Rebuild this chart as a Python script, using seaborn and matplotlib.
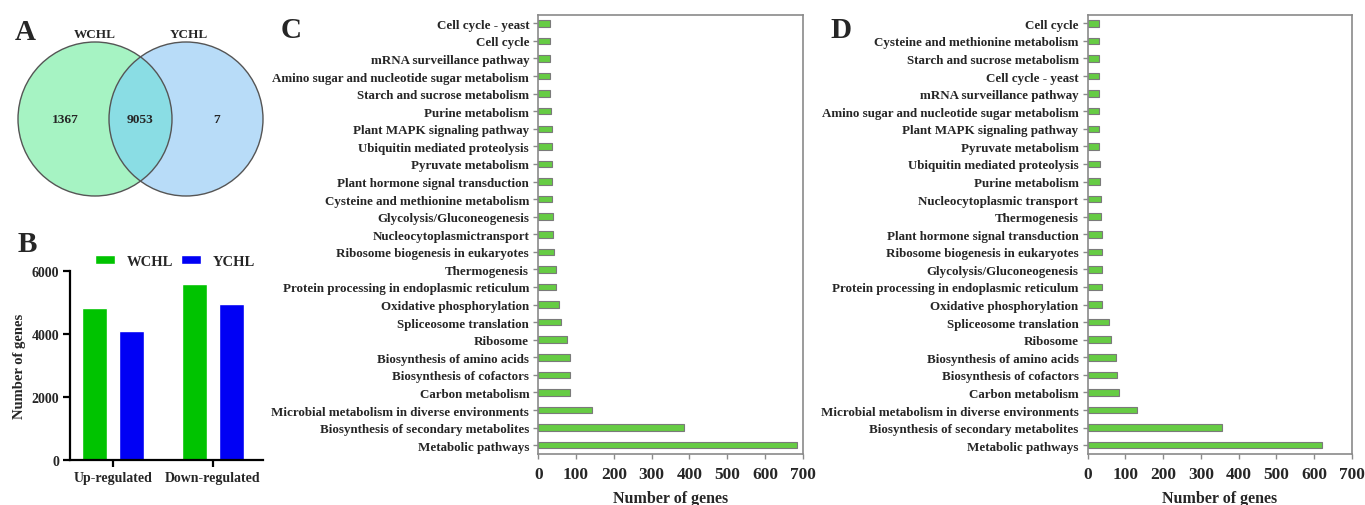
import numpy as np
import pandas as pd
import matplotlib
matplotlib.use("Agg")
import matplotlib.pyplot as plt
from matplotlib.patches import Circle
import seaborn as sns

# ---- data ----
venn_sets = ["WCHL", "YCHL"]
venn_counts = [1367, 9053, 7]          # WCHL only, shared, YCHL only

reg_categories = ["Up-regulated", "Down-regulated"]
wchl_counts = [4820, 5600]
ychl_counts = [4100, 4940]

c_pathways = [
    "Cell cycle - yeast", "Cell cycle", "mRNA surveillance pathway",
    "Amino sugar and nucleotide sugar metabolism", "Starch and sucrose metabolism",
    "Purine metabolism", "Plant MAPK signaling pathway", "Ubiquitin mediated proteolysis",
    "Pyruvate metabolism", "Plant hormone signal transduction",
    "Cysteine and methionine metabolism", "Glycolysis/Gluconeogenesis",
    "Nucleocytoplasmictransport", "Ribosome biogenesis in eukaryotes", "Thermogenesis",
    "Protein processing in endoplasmic reticulum", "Oxidative phosphorylation",
    "Spliceosome translation", "Ribosome", "Biosynthesis of amino acids",
    "Biosynthesis of cofactors", "Carbon metabolism",
    "Microbial metabolism in diverse environments",
    "Biosynthesis of secondary metabolites", "Metabolic pathways",
]
c_genes = [31, 31, 31, 31, 32, 34, 35, 35, 35, 37, 37, 38, 39, 41, 47,
           47, 54, 59, 75, 83, 84, 85, 141, 386, 686]

d_pathways = [
    "Cell cycle", "Cysteine and methionine metabolism", "Starch and sucrose metabolism",
    "Cell cycle - yeast", "mRNA surveillance pathway",
    "Amino sugar and nucleotide sugar metabolism", "Plant MAPK signaling pathway",
    "Pyruvate metabolism", "Ubiquitin mediated proteolysis", "Purine metabolism",
    "Nucleocytoplasmic transport", "Thermogenesis", "Plant hormone signal transduction",
    "Ribosome biogenesis in eukaryotes", "Glycolysis/Gluconeogenesis",
    "Protein processing in endoplasmic reticulum", "Oxidative phosphorylation",
    "Spliceosome translation", "Ribosome", "Biosynthesis of amino acids",
    "Biosynthesis of cofactors", "Carbon metabolism",
    "Microbial metabolism in diverse environments",
    "Biosynthesis of secondary metabolites", "Metabolic pathways",
]
d_genes = [30, 30, 30, 31, 31, 30, 31, 31, 33, 33, 35, 36, 37, 37, 37,
           39, 39, 56, 62, 75, 79, 82, 131, 355, 620]

# ---- style ----
sns.set_style("ticks")
plt.rcParams["font.family"] = ["Liberation Serif", "DejaVu Serif"]
plt.rcParams["font.weight"] = "bold"
plt.rcParams["axes.labelweight"] = "bold"

W, H = 1365, 506
fig = plt.figure(figsize=(W / 100, H / 100), dpi=100)


def px_axes(x0, y0, x1, y1):
    """Axes from pixel box (top-left origin)."""
    return fig.add_axes([x0 / W, 1 - y1 / H, (x1 - x0) / W, (y1 - y0) / H])


def panel_letter(x, y, s):
    fig.text(x / W, 1 - y / H, s, fontsize=21, fontweight="bold",
             ha="center", va="center")


# ---- A: Venn ----
axA = px_axes(0, 0, 280, 210)
axA.set_xlim(0, 280)
axA.set_ylim(210, 0)
axA.set_aspect("equal")
axA.axis("off")
r = 77
left_c = Circle((95, 120), r, facecolor="#a6f3c3", edgecolor="none", zorder=1)
right_c = Circle((186, 120), r, facecolor="#b8dcf8", edgecolor="none", zorder=1)
axA.add_patch(left_c)
axA.add_patch(right_c)
overlap = Circle((186, 120), r, facecolor="#8adde4", edgecolor="none", zorder=2)
axA.add_patch(overlap)
overlap.set_clip_path(left_c)
for cx in (95, 186):
    axA.add_patch(Circle((cx, 120), r, facecolor="none", edgecolor="#555555",
                         lw=1.0, zorder=3))
axA.text(95, 35, venn_sets[0], fontsize=9.5, ha="center", va="center")
axA.text(189, 35, venn_sets[1], fontsize=9.5, ha="center", va="center")
for xt, n in zip((65, 140, 217), venn_counts):
    axA.text(xt, 120, str(n), fontsize=9.6, ha="center", va="center", zorder=4)
panel_letter(25, 32, "A")

# ---- B: DEG bars ----
axB = px_axes(70, 272, 263, 461)
dfB = pd.DataFrame({
    "Regulation": reg_categories * 2,
    "Group": ["WCHL"] * 2 + ["YCHL"] * 2,
    "Count": wchl_counts + ychl_counts,
})
sns.barplot(data=dfB, x="Regulation", y="Count", hue="Group",
            palette={"WCHL": "#00c300", "YCHL": "#0000f5"}, saturation=1,
            width=0.74, gap=0.31, ax=axB, legend=True)
axB.set_xlim(-0.43, 1.5)
axB.set_ylim(0, 6000)
axB.set_yticks([0, 2000, 4000, 6000])
axB.set_xlabel("")
axB.set_ylabel("Number of genes", fontsize=10.5, labelpad=4)
for s in ("top", "right"):
    axB.spines[s].set_visible(False)
for s in ("left", "bottom"):
    axB.spines[s].set_linewidth(1.6)
    axB.spines[s].set_color("black")
axB.tick_params(axis="both", length=5, width=1.6, color="black",
                labelsize=10, pad=3)
for lab in axB.get_xticklabels() + axB.get_yticklabels():
    lab.set_fontweight("bold")
handles, labels = axB.get_legend_handles_labels()
axB.legend(handles, labels, loc="center left",
           bbox_to_anchor=(95 / W, 1 - 262 / H), bbox_transform=fig.transFigure,
           ncol=2, frameon=False, fontsize=10.5, handlelength=1.35,
           handleheight=0.65, handletextpad=0.8, columnspacing=0.6,
           borderpad=0, borderaxespad=0)
panel_letter(27, 245, "B")


# ---- C & D: pathway bars ----
def pathway_panel(ax, names, genes):
    sns.barplot(x=genes, y=names, orient="h", color="#66cc44", saturation=1,
                edgecolor="#7a7a7a", linewidth=0.8, width=0.37, ax=ax)
    ax.set_xlim(0, 700)
    ax.set_ylim(len(names) - 0.5, -0.5)
    ax.set_xticks(np.arange(0, 701, 100))
    ax.set_xlabel("Number of genes", fontsize=11.5, labelpad=6)
    ax.set_ylabel("")
    for s in ax.spines.values():
        s.set_visible(True)
        s.set_color("#8a8a8a")
        s.set_linewidth(1.2)
    ax.tick_params(axis="y", length=3.6, width=1.0, color="#8a8a8a",
                   labelsize=9.4, pad=3)
    ax.tick_params(axis="x", length=3.6, width=1.0, color="#8a8a8a",
                   labelsize=12.5, pad=5)
    for lab in ax.get_xticklabels() + ax.get_yticklabels():
        lab.set_fontweight("bold")


axC = px_axes(538.3, 15.5, 802.7, 455)
pathway_panel(axC, c_pathways, c_genes)
panel_letter(291, 30, "C")

axD = px_axes(1087.7, 15.5, 1351.7, 455)
pathway_panel(axD, d_pathways, d_genes)
panel_letter(841, 30, "D")

fig.savefig("out.png", dpi=100)
